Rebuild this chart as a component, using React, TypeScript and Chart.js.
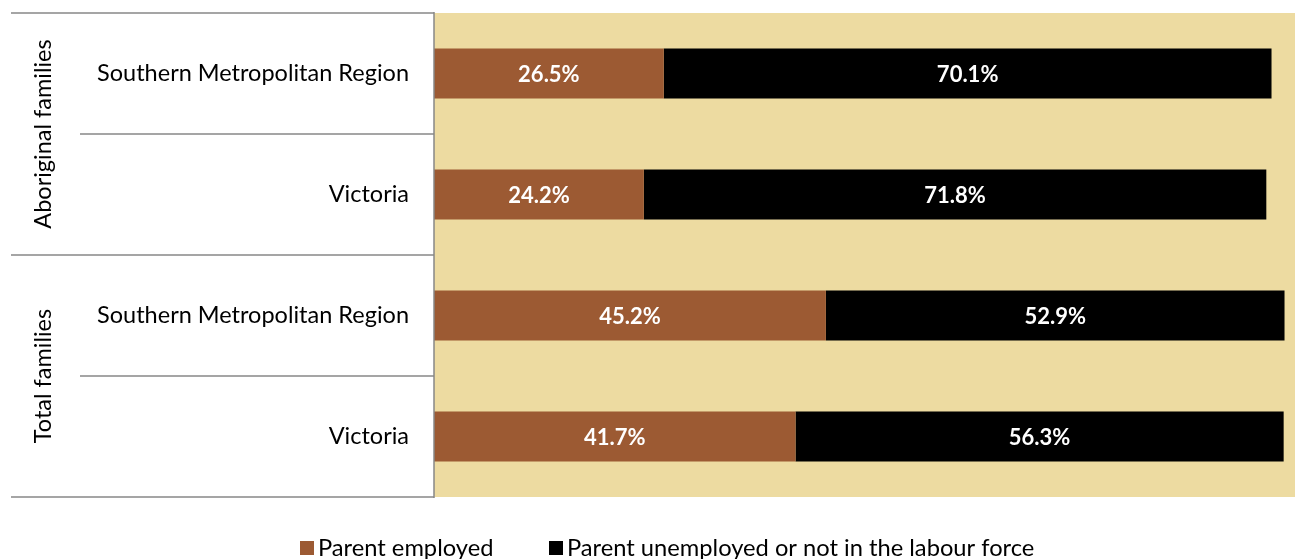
import React, { useEffect, useRef } from "react";
import { Chart, registerables } from "chart.js";

Chart.register(...registerables);

const categories = ["Southern Metropolitan Region", "Victoria", "Southern Metropolitan Region", "Victoria"];
const groups = ["Aboriginal families", "Total families"];
const groupSizes = [2, 2];
const employed = [26.5, 24.2, 45.2, 41.7];
const notEmployed = [70.1, 71.8, 52.9, 56.3];
const seriesNames = ["Parent employed", "Parent unemployed or not in the labour force"];
const seriesColors = ["#9C5A33", "#000000"];

const FONT = "Lato, 'Open Sans', sans-serif";
const PLOT_BG = "#EDDBA1";
const AXIS_LINE = "#878787";

const decorPlugin = {
  id: "decor",
  beforeDraw(chart: any) {
    const { ctx, chartArea } = chart;
    ctx.save();
    ctx.fillStyle = PLOT_BG;
    ctx.fillRect(chartArea.left, chartArea.top, chartArea.right - chartArea.left, chartArea.bottom - chartArea.top);
    ctx.restore();
  },
  afterDatasetsDraw(chart: any) {
    const { ctx } = chart;
    ctx.save();
    ctx.font = `bold 22px ${FONT}`;
    ctx.fillStyle = "#FFFFFF";
    ctx.textAlign = "center";
    ctx.textBaseline = "middle";
    chart.data.datasets.forEach((ds: any, di: number) => {
      const meta = chart.getDatasetMeta(di);
      meta.data.forEach((el: any, i: number) => {
        const cx = (el.x + el.base) / 2;
        ctx.fillText(ds.data[i].toFixed(1) + "%", cx, el.y + 1);
      });
    });
    ctx.restore();
  },
  afterDraw(chart: any) {
    const { ctx, chartArea, scales } = chart;
    const y = scales.y;
    const n = categories.length;
    const centers = categories.map((_, i) => y.getPixelForValue(i));
    const bounds: number[] = [chartArea.top];
    for (let i = 0; i < n - 1; i++) bounds.push((centers[i] + centers[i + 1]) / 2);
    bounds.push(chartArea.bottom);

    ctx.save();
    // category labels
    ctx.font = `23.5px ${FONT}`;
    ctx.fillStyle = "#000000";
    ctx.textAlign = "right";
    ctx.textBaseline = "middle";
    centers.forEach((c, i) => ctx.fillText(categories[i], chartArea.left - 25, c));

    // group boundaries
    const groupStarts: number[] = [];
    let acc = 0;
    groupSizes.forEach((s) => {
      groupStarts.push(acc);
      acc += s;
    });
    const groupBoundaryIdx = new Set<number>([0, n]);
    groupStarts.forEach((g) => groupBoundaryIdx.add(g));

    ctx.strokeStyle = AXIS_LINE;
    ctx.lineWidth = 1.5;
    bounds.forEach((b, i) => {
      const x0 = groupBoundaryIdx.has(i) ? 11 : 80;
      ctx.beginPath();
      ctx.moveTo(x0, b);
      ctx.lineTo(chartArea.left, b);
      ctx.stroke();
    });
    ctx.beginPath();
    ctx.moveTo(chartArea.left, chartArea.top - 1);
    ctx.lineTo(chartArea.left, chartArea.bottom + 1);
    ctx.stroke();

    // group labels (rotated)
    ctx.font = `23.5px ${FONT}`;
    ctx.textAlign = "center";
    groups.forEach((g, gi) => {
      const start = groupStarts[gi];
      const end = start + groupSizes[gi];
      const mid = (bounds[start] + bounds[end]) / 2;
      ctx.save();
      ctx.translate(43, mid);
      ctx.rotate(-Math.PI / 2);
      ctx.fillText(g, 0, 0);
      ctx.restore();
    });

    // legend
    ctx.font = `23.7px ${FONT}`;
    ctx.textAlign = "left";
    const legendY = 548;
    const legendX = [300, 549];
    seriesNames.forEach((name, i) => {
      ctx.fillStyle = seriesColors[i];
      ctx.fillRect(legendX[i], legendY - 7, 14, 14);
      ctx.fillStyle = "#000000";
      ctx.fillText(name, legendX[i] + 18, legendY);
    });
    ctx.restore();
  },
};

export default function App() {
  const ref = useRef<HTMLCanvasElement | null>(null);
  useEffect(() => {
    if (!ref.current) return;
    const chart = new Chart(ref.current, {
      type: "bar",
      data: {
        labels: categories,
        datasets: [
          { label: seriesNames[0], data: employed, backgroundColor: seriesColors[0], barPercentage: 0.413, categoryPercentage: 1 },
          { label: seriesNames[1], data: notEmployed, backgroundColor: seriesColors[1], barPercentage: 0.413, categoryPercentage: 1 },
        ],
      },
      options: {
        indexAxis: "y",
        responsive: false,
        animation: false,
        layout: { padding: { left: 434, top: 13, right: 0, bottom: 62 } },
        scales: {
          x: { stacked: true, min: 0, max: 100, display: false, grid: { display: false } },
          y: { stacked: true, display: false, grid: { display: false } },
        },
        plugins: { legend: { display: false }, tooltip: { enabled: false } },
      },
      plugins: [decorPlugin],
    });
    return () => chart.destroy();
  }, []);
  return (
    <div style={{ position: "absolute", left: 0, top: 0, width: 1295, height: 559, overflow: "hidden", background: "#fff" }}>
      <canvas ref={ref} width={1301} height={559} style={{ display: "block" }} />
    </div>
  );
}
